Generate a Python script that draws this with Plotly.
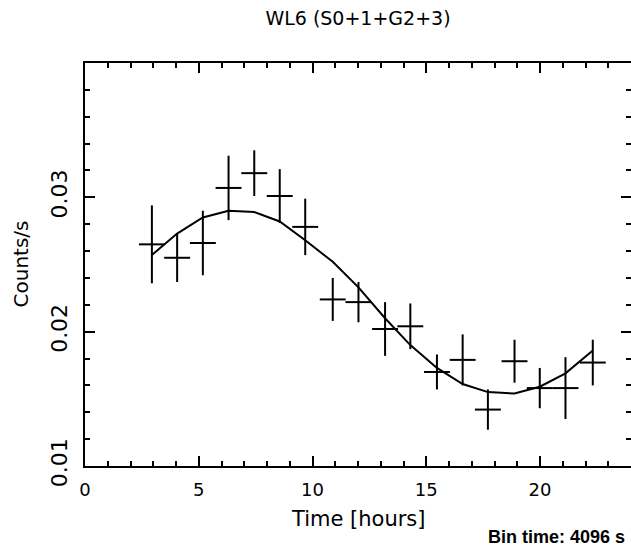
import plotly.graph_objects as go

# ---- data ----
time_hours = [2.94, 4.05, 5.18, 6.31, 7.44, 8.56, 9.68, 10.89, 12.02,
              13.19, 14.30, 15.47, 16.60, 17.71, 18.88, 19.99, 21.12, 22.32]
rate = [0.0265, 0.0255, 0.0266, 0.0307, 0.0318, 0.0301, 0.0278, 0.0224, 0.0222,
        0.0202, 0.0204, 0.0170, 0.0179, 0.0142, 0.0178, 0.0158, 0.0158, 0.0177]
rate_err = [0.0029, 0.0018, 0.0024, 0.0024, 0.0017, 0.0020, 0.0021, 0.0016, 0.0015,
            0.0020, 0.0017, 0.0013, 0.0019, 0.0015, 0.0016, 0.0015, 0.0023, 0.0017]
model = [0.0257, 0.0273, 0.0285, 0.0290, 0.0289, 0.0282, 0.0268, 0.0252, 0.0233,
         0.0210, 0.0190, 0.0173, 0.0161, 0.0155, 0.0154, 0.0159, 0.0169, 0.0186]
half_bin_hours = 0.57

x_ticks = [0, 5, 10, 15, 20]
x_tick_labels = ["0", "5", "10", "15", "20"]
y_ticks = [0.01, 0.02, 0.03]
y_tick_labels = ["0.01", "0.02", "0.03"]

title_text = "WL6 (S0+1+G2+3)"
x_title = "Time [hours]"
y_title = "Counts/s"
bin_note = "Bin time: 4096 s"

FONT = "DejaVu Sans, Verdana, sans-serif"
FONT_B = "Liberation Sans, Arial, Helvetica, sans-serif"

W, H = 631, 548
ML, MR, MT, MB = 85, 0, 63, 82
PH = H - MT - MB
PW = W - ML - MR

fig = go.Figure()
fig.add_trace(go.Scatter(
    x=time_hours, y=rate, mode="markers",
    marker=dict(size=1, color="black"),
    error_x=dict(type="constant", value=half_bin_hours, width=0, thickness=2, color="black"),
    error_y=dict(type="data", array=rate_err, width=0, thickness=2, color="black"),
    showlegend=False, hoverinfo="skip",
))
fig.add_trace(go.Scatter(
    x=time_hours, y=model, mode="lines",
    line=dict(color="black", width=2),
    showlegend=False, hoverinfo="skip",
))

axis_common = dict(
    showline=True, linecolor="black", linewidth=2, mirror="allticks",
    ticks="inside", ticklen=10, tickwidth=2, tickcolor="black",
    showgrid=False, zeroline=False, automargin=False,
)

fig.update_xaxes(
    range=[0, 24], tickvals=x_ticks, ticktext=x_tick_labels,
    minor=dict(ticks="inside", dtick=1, ticklen=5, tickwidth=2, tickcolor="black", showgrid=False),
    ticklabelstandoff=6,
    tickfont=dict(family=FONT, size=18, color="black"),
    **axis_common,
)
fig.update_yaxes(
    range=[0.01, 0.04], tickvals=y_ticks, ticktext=y_tick_labels, tickangle=-90,
    minor=dict(ticks="inside", dtick=0.002, ticklen=5, tickwidth=2, tickcolor="black", showgrid=False),
    ticklabelstandoff=7,
    tickfont=dict(family=FONT, size=22, color="black"),
    **axis_common,
)

fig.update_layout(
    width=W, height=H,
    margin=dict(l=ML, r=MR, t=MT, b=MB),
    paper_bgcolor="white", plot_bgcolor="white",
    title=dict(text=title_text, xref="paper", x=0.5, xanchor="center",
               yref="container", y=1 - 18 / H, yanchor="middle",
               font=dict(family=FONT, size=19, color="black")),
    annotations=[
        dict(text=x_title, xref="paper", yref="paper", x=0.5, y=(H - MB - 519) / PH,
             xanchor="center", yanchor="middle", showarrow=False,
             font=dict(family=FONT, size=21, color="black")),
        dict(text=y_title, xref="paper", yref="paper", x=(20 - ML) / PW, y=0.5,
             xanchor="center", yanchor="middle", textangle=-90, showarrow=False,
             font=dict(family=FONT, size=20, color="black")),
        dict(text="<b>" + bin_note + "</b>", xref="paper", yref="paper",
             x=(627 - ML) / PW, y=(H - MB - 537) / PH, xanchor="right", yanchor="middle",
             showarrow=False, font=dict(family=FONT_B, size=18, color="black")),
    ],
)

fig.write_html(
    "out.html",
    config={"displayModeBar": False},
    post_script="document.body.style.margin='0';document.body.style.overflow='hidden';",
)
